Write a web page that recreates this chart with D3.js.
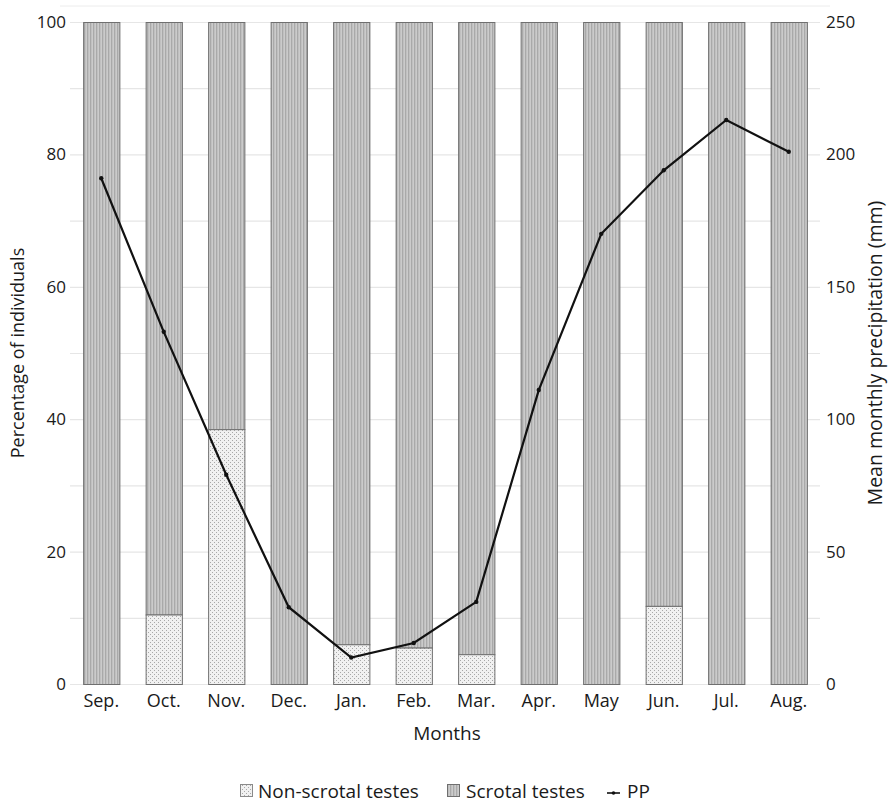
<!DOCTYPE html>
<html>
<head>
<meta charset="utf-8">
<script src="https://cdn.jsdelivr.net/npm/d3@7"></script>
<style>
  body { margin: 0; background: #fff; }
  svg { display: block; font-family: "Open Sans", "Noto Sans", sans-serif; }
</style>
</head>
<body>
<svg id="chart" width="894" height="803"></svg>
<script>
// Monthly categories (September to August)
const months = ["Sep.", "Oct.", "Nov.", "Dec.", "Jan.", "Feb.", "Mar.", "Apr.", "May", "Jun.", "Jul.", "Aug."];
// Percentage of males with non-scrotal testes; the remainder is scrotal
const nonScrotal = [0, 10.5, 38.5, 0, 6, 5.5, 4.5, 0, 0, 11.8, 0, 0];
const scrotal = nonScrotal.map(v => 100 - v);
// Mean monthly precipitation (mm)
const precipitation = [191, 133, 79, 29, 10, 15.5, 31, 111, 170, 194, 213, 201];
const leftTicks = [0, 20, 40, 60, 80, 100];
const rightTicks = [0, 50, 100, 150, 200, 250];
const gridTicks = d3.range(0, 101, 10);

const svg = d3.select("#chart");
const margin = { left: 70, right: 74, top: 22, bottom: 119 };
const W = 894, H = 803;

const x = d3.scaleBand().domain(months).range([margin.left, W - margin.right]).paddingInner(0.42).paddingOuter(0.21);
const yL = d3.scaleLinear().domain([0, 100]).range([H - margin.bottom, margin.top]);
const yR = d3.scaleLinear().domain([0, 250]).range([H - margin.bottom, margin.top]);

// Fill patterns
const defs = svg.append("defs");
const pStripe = defs.append("pattern").attr("id", "stripe").attr("patternUnits", "userSpaceOnUse")
  .attr("width", 3).attr("height", 4);
pStripe.append("rect").attr("width", 3).attr("height", 4).attr("fill", "#c0c0c0");
pStripe.append("rect").attr("width", 1).attr("height", 4).attr("fill", "#a9a9a9");
pStripe.append("rect").attr("x", 2).attr("width", 1).attr("height", 4).attr("fill", "#cbcbcb");

const pDot = defs.append("pattern").attr("id", "dots").attr("patternUnits", "userSpaceOnUse")
  .attr("width", 4).attr("height", 4);
pDot.append("rect").attr("width", 4).attr("height", 4).attr("fill", "#f1f1f1");
pDot.append("rect").attr("x", 0).attr("y", 0).attr("width", 1).attr("height", 1).attr("fill", "#a8a8a8");
pDot.append("rect").attr("x", 2).attr("y", 2).attr("width", 1).attr("height", 1).attr("fill", "#a8a8a8");

// Frame line above plot and light gridlines
svg.append("line").attr("x1", 60).attr("x2", 830).attr("y1", 6).attr("y2", 6)
  .attr("stroke", "#ececec").attr("stroke-width", 1);
svg.append("g").selectAll("line").data(gridTicks).join("line")
  .attr("x1", margin.left).attr("x2", W - margin.right)
  .attr("y1", d => yL(d) + 0.5).attr("y2", d => yL(d) + 0.5)
  .attr("stroke", "#e6e6e6").attr("stroke-width", 1.2);

// Stacked bars
const bars = svg.append("g");
months.forEach((m, i) => {
  bars.append("rect")
    .attr("x", x(m) + 0.5).attr("width", x.bandwidth())
    .attr("y", yL(nonScrotal[i] + scrotal[i]) + 0.5)
    .attr("height", yL(nonScrotal[i]) - yL(nonScrotal[i] + scrotal[i]))
    .attr("fill", "url(#stripe)").attr("stroke", "#6f6f6f").attr("stroke-width", 1);
  if (nonScrotal[i] > 0) {
    bars.append("rect")
      .attr("x", x(m) + 0.5).attr("width", x.bandwidth())
      .attr("y", yL(nonScrotal[i]) + 0.5)
      .attr("height", yL(0) - yL(nonScrotal[i]))
      .attr("fill", "url(#dots)").attr("stroke", "#6f6f6f").attr("stroke-width", 1);
  }
});

// Precipitation line
const line = d3.line().x((d, i) => x(months[i]) + x.bandwidth() / 2).y(d => yR(d));
svg.append("path").datum(precipitation).attr("d", line)
  .attr("fill", "none").attr("stroke", "#111").attr("stroke-width", 2.2).attr("stroke-linejoin", "miter");
svg.append("g").selectAll("circle").data(precipitation).join("circle")
  .attr("cx", (d, i) => x(months[i]) + x.bandwidth() / 2).attr("cy", d => yR(d))
  .attr("r", 2.2).attr("fill", "#111");

// Axes
const axisL = svg.append("g").attr("transform", `translate(${margin.left - 4},0)`)
  .call(d3.axisLeft(yL).tickValues(leftTicks).tickSize(0).tickPadding(0));
const axisR = svg.append("g").attr("transform", `translate(${W - margin.right + 6},0)`)
  .call(d3.axisRight(yR).tickValues(rightTicks).tickSize(0).tickPadding(0));
const axisB = svg.append("g").attr("transform", `translate(0,${H - margin.bottom + 7})`)
  .call(d3.axisBottom(x).tickSize(0).tickPadding(0));
[axisL, axisR, axisB].forEach(g => {
  g.select(".domain").remove();
  g.selectAll("text").attr("font-size", 17).attr("fill", "#1a1a1a")
    .attr("font-family", "\"Open Sans\", sans-serif");
});
axisB.selectAll("text").attr("font-size", 18).attr("dy", "0.9em");

// Axis titles
svg.append("text").attr("x", (margin.left + W - margin.right) / 2 + 2).attr("y", 740)
  .attr("text-anchor", "middle").attr("font-size", 19).attr("fill", "#1a1a1a").text("Months");
svg.append("text").attr("transform", `translate(24,${(yL(0) + yL(100)) / 2}) rotate(-90)`)
  .attr("text-anchor", "middle").attr("font-size", 18).attr("fill", "#1a1a1a").text("Percentage of individuals");
svg.append("text").attr("transform", `translate(882,${(yL(0) + yL(100)) / 2}) rotate(-90)`)
  .attr("text-anchor", "middle").attr("font-size", 19.5).attr("fill", "#1a1a1a").text("Mean monthly precipitation (mm)");

// Legend
const lg = svg.append("g").attr("transform", "translate(0,791)");
lg.append("rect").attr("x", 240.5).attr("y", -6.5).attr("width", 12).attr("height", 12)
  .attr("fill", "url(#dots)").attr("stroke", "#8a8a8a");
lg.append("text").attr("x", 258).attr("y", 7).attr("font-size", 19).attr("fill", "#1a1a1a").text("Non-scrotal testes");
lg.append("rect").attr("x", 447.5).attr("y", -6.5).attr("width", 12).attr("height", 12)
  .attr("fill", "url(#stripe)").attr("stroke", "#6f6f6f");
lg.append("text").attr("x", 466).attr("y", 7).attr("font-size", 19).attr("fill", "#1a1a1a").text("Scrotal testes");
lg.append("line").attr("x1", 607).attr("x2", 620).attr("y1", 2).attr("y2", 2).attr("stroke", "#111").attr("stroke-width", 1.6);
lg.append("circle").attr("cx", 613.5).attr("cy", 2).attr("r", 1.8).attr("fill", "#111");
lg.append("text").attr("x", 627).attr("y", 7).attr("font-size", 19).attr("fill", "#1a1a1a").text("PP");
</script>
</body>
</html>
